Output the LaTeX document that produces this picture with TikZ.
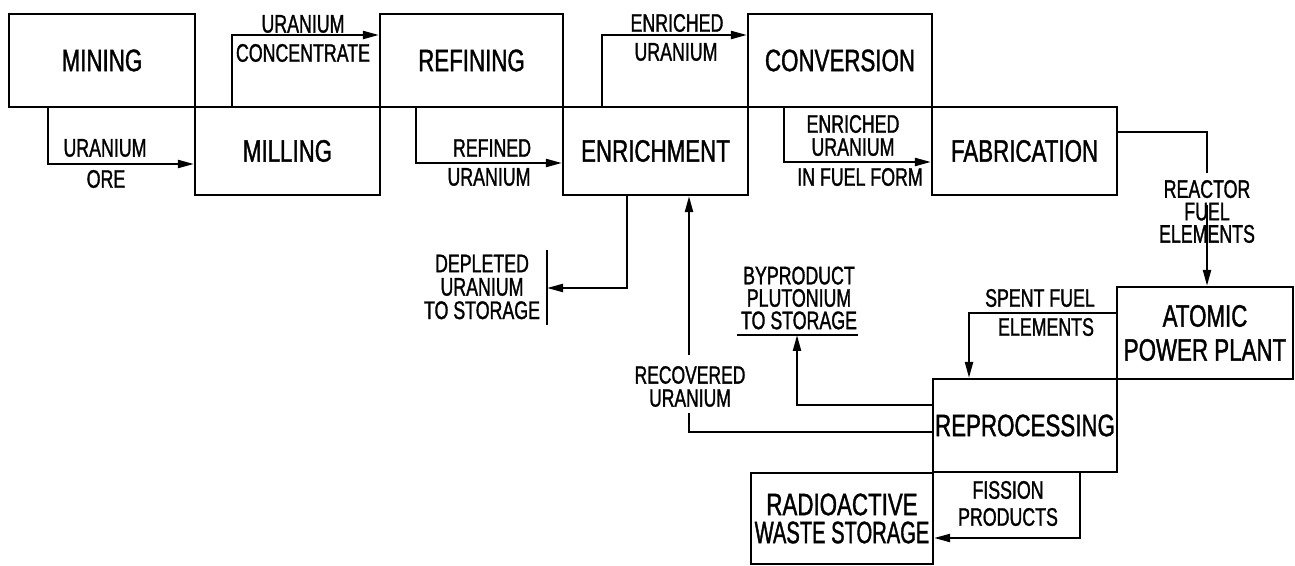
\documentclass[tikz,border=0pt]{standalone}
\usepackage{fontspec}
\setmainfont{Liberation Sans}[FakeStretch=0.72,FakeBold=1.2]
\newfontfamily\lblfont{Liberation Sans}[FakeStretch=0.70,FakeBold=1.2]
\newfontfamily\narrowbox{Liberation Sans}[FakeStretch=0.65,FakeBold=1.2]
\usetikzlibrary{arrows.meta}
\begin{document}
\begin{tikzpicture}[x=0.5pt,y=-0.5pt,
  box/.style={draw, line width=1.1pt, inner sep=0pt, align=center, font=\fontsize{15.5}{17}\selectfont},
  lbl/.style={inner sep=0pt, align=center, font=\lblfont\fontsize{12.7}{11.2}\selectfont},
  ln/.style={line width=1.1pt},
  arr/.style={ln, -{Triangle[length=8pt,width=4pt]}}
]
\path[use as bounding box] (0,0) rectangle (1295,566);

% boxes
\node[box, minimum width=93pt, minimum height=46.5pt] (mining) at (102,60.5) {MINING};
\node[box, minimum width=92.5pt, minimum height=44pt] (milling) at (287.5,151) {MILLING};
\node[box, minimum width=91.5pt, minimum height=46.5pt] (refining) at (471.5,60.5) {REFINING};
\node[box, minimum width=92.5pt, minimum height=44pt] (enrich) at (655.5,151) {ENRICHMENT};
\node[box, minimum width=92pt, minimum height=46.5pt] (conv) at (840,60.5) {CONVERSION};
\node[box, minimum width=92.5pt, minimum height=44pt] (fab) at (1024.5,151) {FABRICATION};
\node[box, minimum width=88pt, minimum height=46pt] (atomic) at (1205,333) {\raisebox{-4pt}{\parbox{86pt}{\centering ATOMIC\\POWER PLANT}}};
\node[box, minimum width=92pt, minimum height=46.5pt] (reproc) at (1025,425.5) {REPROCESSING};
\node[box, minimum width=91pt, minimum height=45.5pt, font=\fontsize{15.5}{14}\selectfont] (waste) at (842,518.5) {RADIOACTIVE\\{\narrowbox WASTE STORAGE}};

% edge labels
\node[lbl] (oreA) at (105,148) {URANIUM};
\node[lbl] (oreB) at (106,179) {ORE};
\node[lbl] (concA) at (303,24) {URANIUM};
\node[lbl] (concB) at (303,53) {CONCENTRATE};
\node[lbl] (refA) at (492,148) {REFINED};
\node[lbl] (refB) at (489,177) {URANIUM};
\node[lbl] (enrA) at (677,23) {ENRICHED};
\node[lbl] (enrB) at (676,52) {URANIUM};
\node[lbl, font=\lblfont\fontsize{12.7}{11.5}\selectfont] (ffA) at (853,135.5) {ENRICHED\\URANIUM};
\node[lbl] (ffB) at (860,177) {IN FUEL FORM};
\node[lbl] (reactor) at (1207,211.5) {REACTOR\\FUEL\\ELEMENTS};
\node[lbl] (sfA) at (1040,298) {SPENT FUEL};
\node[lbl] (sfB) at (1046,327) {ELEMENTS};
\node[lbl, font=\lblfont\fontsize{12.7}{13.5}\selectfont] (fission) at (1008,503.5) {FISSION\\PRODUCTS};
\node[lbl] (byprod) at (799,298) {BYPRODUCT\\PLUTONIUM\\TO STORAGE};
\node[lbl, font=\lblfont\fontsize{12.5}{11.5}\selectfont] (recov) at (690,386.5) {RECOVERED\\URANIUM};
\node[lbl, font=\lblfont\fontsize{12.7}{11.7}\selectfont] (deplete) at (482,287) {DEPLETED\\URANIUM\\TO STORAGE};

% helper coordinates
\coordinate (oreX) at (48,164);
\coordinate (concX) at (232,35);
\coordinate (refX) at (416,163);
\coordinate (enrX) at (602,35);
\coordinate (ffX) at (784,162);
\coordinate (rY) at (1207,132);
\coordinate (rTop) at (1207,173);
\coordinate (rBot) at (1207,205);
\coordinate (sfC) at (969,313);
\coordinate (bpC) at (797,405);
\coordinate (bpL) at (737,335);
\coordinate (bpR) at (858,335);
\coordinate (rcC) at (689,432);
\coordinate (rcTop) at (689,355);
\coordinate (rcBot) at (689,413);
\coordinate (dpC) at (627,288);
\coordinate (dpBar) at (547,288);
\coordinate (dpTop) at (547,250);
\coordinate (dpBot) at (547,325);
\coordinate (fiC) at (1080,538);

% connectors
\draw[arr] (mining.south -| oreX) |- (milling.west |- oreX);
\draw[arr] (milling.north -| concX) |- (refining.west |- concX);
\draw[arr] (refining.south -| refX) |- (enrich.west |- refX);
\draw[arr] (enrich.north -| enrX) |- (conv.west |- enrX);
\draw[arr] (conv.south -| ffX) |- (fab.west |- ffX);
\draw[ln] (fab.east |- rY) -| (rTop);
\draw[arr] (rBot) -- (atomic.north -| rBot);
\draw[arr] (atomic.west |- sfC) -| (reproc.north -| sfC);
\draw[ln] (bpL) -- (bpR);
\draw[arr] (reproc.west |- bpC) -| (bpL -| bpC);
\draw[ln] (reproc.west |- rcC) -| (rcBot);
\draw[arr] (rcTop) -- (enrich.south -| rcTop);
\draw[ln] (dpTop) -- (dpBot);
\draw[arr] (enrich.south -| dpC) |- (dpBar);
\draw[arr] (reproc.south -| fiC) |- (waste.east |- fiC);
\end{tikzpicture}
\end{document}
